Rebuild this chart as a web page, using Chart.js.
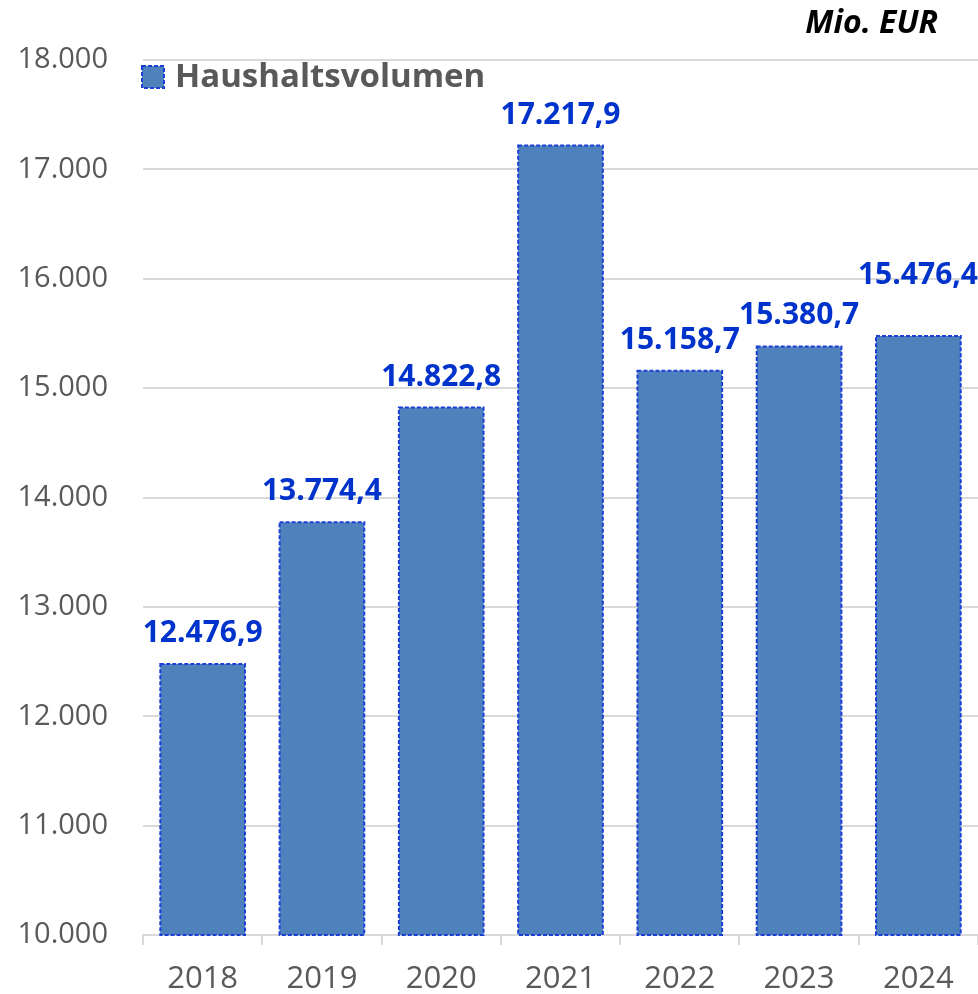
<!DOCTYPE html>
<html>
<head>
<meta charset="utf-8">
<script src="https://cdn.jsdelivr.net/npm/chart.js@4/dist/chart.umd.min.js"></script>
<style>
html,body{margin:0;padding:0;background:#fff;}
#wrap{width:978px;height:994px;position:relative;}
</style>
</head>
<body>
<div id="wrap"><canvas id="c"></canvas></div>
<script>
const categories = ['2018','2019','2020','2021','2022','2023','2024'];
const values = [12476.9, 13774.4, 14822.8, 17217.9, 15158.7, 15380.7, 15476.4];
const seriesName = 'Haushaltsvolumen';
const unitLabel = 'Mio. EUR';
const yMin = 10000, yMax = 18000, yStep = 1000;

const FONT = "'Open Sans', 'DejaVu Sans', sans-serif";
const BAR_FILL = '#4F81BD';
const BAR_EDGE = '#1A3FD6';
const LABEL_BLUE = '#0033CC';
const GREY = '#595959';
const GRID = '#D9D9D9';

function fmtDE(v, dec) {
  return v.toLocaleString('de-DE', {minimumFractionDigits: dec, maximumFractionDigits: dec});
}

const overlay = {
  id: 'overlay',
  afterDatasetsDraw(chart) {
    const ctx = chart.ctx;
    const area = chart.chartArea;
    const meta = chart.getDatasetMeta(0);
    const W = chart.width;
    ctx.save();
    ctx.font = "bold 30px " + FONT;
    const capH = 22, gap = 22, sep = 18;
    let prev = null;
    const labels = [];
    meta.data.forEach((el, i) => {
      const p = el.getProps(['x','y','base','width'], true);
      const bottom = Math.min(p.base, area.bottom);
      const left = p.x - p.width/2, top = p.y, h = bottom - top;
      ctx.setLineDash([4,2]);
      ctx.lineWidth = 2;
      ctx.strokeStyle = BAR_EDGE;
      ctx.strokeRect(left, top, p.width, h);
      ctx.setLineDash([]);
      const txt = fmtDE(chart.data.datasets[0].data[i], 1);
      const w = ctx.measureText(txt).width;
      let lx = p.x - w/2;
      let clamped = false;
      if (lx + w > W) { lx = W - w; clamped = true; }
      let base = p.y - gap;
      if (clamped && prev && Math.abs(base - prev.base) < capH + sep) {
        base = prev.base - capH - sep;
      }
      prev = {lx, w, base};
      labels.push({txt, lx, base});
    });
    ctx.fillStyle = LABEL_BLUE;
    ctx.textAlign = 'left';
    ctx.textBaseline = 'alphabetic';
    labels.forEach(l => ctx.fillText(l.txt, l.lx, l.base));
    // legend
    const lx = 142, ly = 66, ls = 22;
    ctx.fillStyle = BAR_FILL;
    ctx.fillRect(lx, ly, ls, ls);
    ctx.setLineDash([4,2]);
    ctx.lineWidth = 2;
    ctx.strokeStyle = BAR_EDGE;
    ctx.strokeRect(lx, ly, ls, ls);
    ctx.setLineDash([]);
    ctx.fillStyle = GREY;
    ctx.font = "bold 33px " + FONT;
    ctx.textAlign = 'left';
    ctx.textBaseline = 'middle';
    ctx.fillText(seriesName, 175, 78);
    // unit
    ctx.fillStyle = '#000';
    ctx.font = "italic bold 32px " + FONT;
    ctx.textAlign = 'right';
    ctx.textBaseline = 'middle';
    ctx.fillText(unitLabel, 938, 24);
    ctx.restore();
  }
};

new Chart(document.getElementById('c'), {
  type: 'bar',
  data: {
    labels: categories,
    datasets: [{
      label: seriesName,
      data: values,
      backgroundColor: BAR_FILL,
      borderWidth: 0,
      categoryPercentage: 1.0,
      barPercentage: 0.71
    }]
  },
  options: {
    responsive: true,
    maintainAspectRatio: false,
    animation: false,
    layout: {padding: {top: 60, right: 0, bottom: 0, left: 0}},
    plugins: {legend: {display: false}, tooltip: {enabled: false}},
    scales: {
      x: {
        offset: true,
        grid: {display: true, offset: true, drawOnChartArea: false, drawTicks: true, tickLength: 10, color: GRID, lineWidth: 2},
        border: {display: true, color: GRID, width: 2},
        ticks: {color: GREY, font: {family: FONT, size: 31}, padding: 16},
        afterFit(s) { s.height = 59; }
      },
      y: {
        min: yMin, max: yMax,
        grid: {color: GRID, lineWidth: 2, drawTicks: false},
        border: {display: false},
        ticks: {
          stepSize: yStep,
          color: GREY,
          font: {family: FONT, size: 29},
          padding: 35,
          callback: v => fmtDE(v, 0)
        },
        afterFit(s) { s.width = 143; }
      }
    }
  },
  plugins: [overlay]
});
</script>
</body>
</html>
